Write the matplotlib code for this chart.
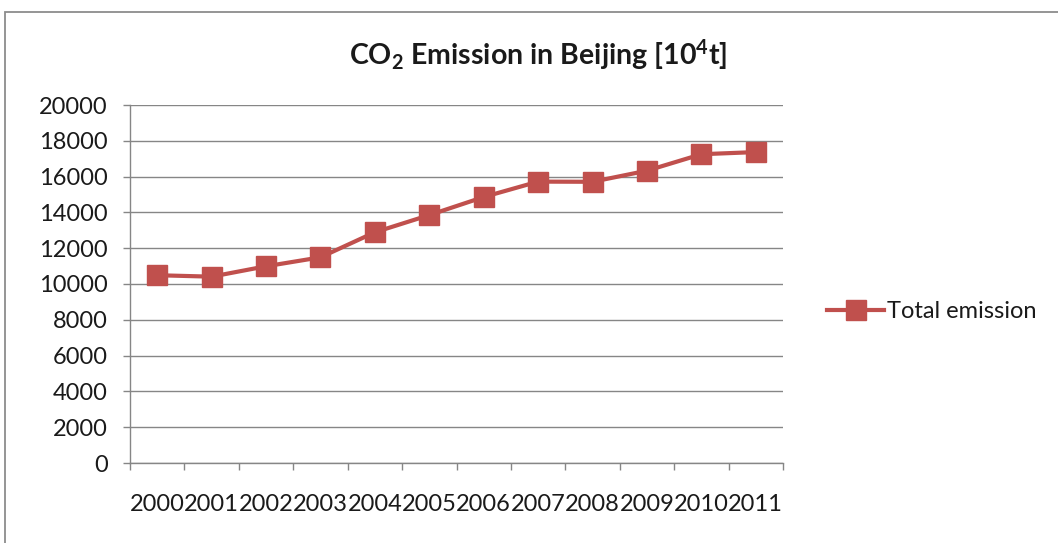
import matplotlib
matplotlib.use("Agg")
import matplotlib.pyplot as plt
from matplotlib.patches import Rectangle
from matplotlib.lines import Line2D

years = ["2000", "2001", "2002", "2003", "2004", "2005",
         "2006", "2007", "2008", "2009", "2010", "2011"]
total_emission = [10490, 10410, 10990, 11490, 12890, 13850,
                  14860, 15720, 15710, 16330, 17250, 17370]
y_ticks = [0, 2000, 4000, 6000, 8000, 10000, 12000, 14000, 16000, 18000, 20000]

plt.rcParams["font.family"] = ["Lato", "DejaVu Sans"]
plt.rcParams["mathtext.fontset"] = "custom"
plt.rcParams["mathtext.default"] = "bf"
plt.rcParams["mathtext.bf"] = "Lato:bold"

line_color = "#C0504D"
grid_color = "#868686"
text_color = "#1a1a1a"

fig = plt.figure(figsize=(10.58, 5.43), dpi=100)
ax = fig.add_axes([130 / 1058, 1 - 463 / 543, (783 - 130) / 1058, (463 - 105) / 543])

# chart frame
fig.patches.append(Rectangle((5 / 1058, -0.05), 1.1, 1 - 12 / 543 + 0.05,
                             transform=fig.transFigure, fill=False,
                             edgecolor="#8c8c8c", linewidth=1.3))

x = list(range(len(years)))
ax.plot(x, total_emission, color=line_color, linewidth=3, marker="s",
        markersize=14, markeredgecolor=line_color, markerfacecolor=line_color,
        zorder=3)

ax.set_xlim(-0.5, len(years) - 0.5)
ax.set_ylim(0, 20000)
ax.set_yticks(y_ticks)
ax.set_yticklabels([str(v) for v in y_ticks], fontsize=17, color=text_color)
ax.set_xticks(x)
ax.set_xticklabels(years, fontsize=17, color=text_color)
ax.set_xticks([i - 0.5 for i in range(len(years) + 1)], minor=True)
ax.tick_params(axis="x", which="major", length=0, pad=22)
ax.tick_params(axis="x", which="minor", length=5, color=grid_color, width=1)
ax.tick_params(axis="y", length=5, color=grid_color, width=1, pad=11)

ax.grid(axis="y", color=grid_color, linewidth=1)
ax.set_axisbelow(True)
for side in ("top", "right"):
    ax.spines[side].set_visible(False)
for side in ("left", "bottom"):
    ax.spines[side].set_color(grid_color)
    ax.spines[side].set_linewidth(1)

fig.text(538 / 1058, 1 - 55 / 543, r"CO$_2$ Emission in Beijing [10$^4$t]",
         ha="center", va="center", fontsize=20.5, fontweight="bold",
         color=text_color)

handle = Line2D([], [], color=line_color, linewidth=3, marker="s",
                markersize=14, markerfacecolor=line_color,
                markeredgecolor=line_color)
fig.legend([handle], ["Total emission"], loc="center left",
           bbox_to_anchor=(806 / 1058, 1 - 312 / 543), frameon=False,
           fontsize=17, handlelength=2.4, handletextpad=0.15,
           labelcolor=text_color)

fig.savefig("out.png", dpi=100, facecolor="white")
